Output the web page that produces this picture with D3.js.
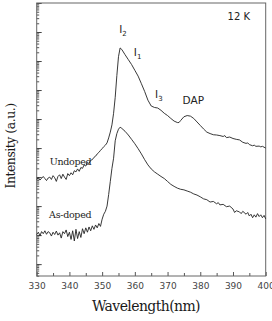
<!DOCTYPE html>
<html>
<head>
<meta charset="utf-8">
<script src="https://cdn.jsdelivr.net/npm/d3@7/dist/d3.min.js"></script>
<style>
  body { margin: 0; background: #fff; }
  svg { display: block; }
  .domain { display: none; }
</style>
</head>
<body>
<div id="chart"></div>
<script>
// wavelength (nm), intensity (a.u., log scale)
const undoped = [
  [330.0, 8.5e3], [330.5, 9.5e3], [331.0, 7.9e3], [331.5, 9.1e3], [332.0, 1.05e4], [332.5, 8.9e3],
  [333.0, 7.6e3], [333.5, 9.3e3], [334.0, 1.0e4], [334.5, 8.3e3], [335.0, 1.12e4], [335.5, 9.5e3],
  [336.0, 7.1e3], [336.5, 1.05e4], [337.0, 1.2e4], [337.5, 8.9e3], [338.0, 1.26e4], [338.5, 1.0e4],
  [339.0, 8.3e3], [339.5, 1.32e4], [340.0, 1.12e4], [340.5, 1.41e4], [341.0, 1.2e4], [341.5, 1.66e4],
  [342.0, 1.51e4], [342.5, 1.91e4], [343.0, 1.58e4], [343.5, 2.14e4], [344.0, 2.0e4], [344.5, 2.63e4],
  [345.0, 2.4e4], [345.5, 3.16e4], [346.0, 2.95e4], [346.5, 3.8e4], [347.0, 3.98e4], [347.5, 4.79e4],
  [348.0, 5.25e4], [348.5, 6.31e4], [349.0, 7.08e4], [349.5, 8.32e4], [350.0, 9.55e4], [350.5, 1.12e5],
  [351.0, 1.26e5], [351.5, 1.51e5], [352.0, 2.24e5], [352.5, 3.55e5], [353.0, 6.31e5], [353.5, 1.58e6],
  [354.0, 5.62e6], [354.5, 3.16e7], [355.0, 1.41e8], [355.5, 2.82e8], [356.0, 2.51e8], [357.0, 1.66e8],
  [358.0, 1.12e8], [359.0, 7.59e7], [360.0, 4.79e7], [361.0, 3.02e7], [362.0, 1.66e7], [363.0, 8.91e6],
  [364.0, 4.47e6], [365.0, 2.82e6], [366.0, 2.51e6], [367.0, 2.4e6], [368.0, 2.0e6], [369.0, 1.58e6],
  [370.0, 1.32e6], [371.0, 1.05e6], [372.0, 8.51e5], [373.0, 7.59e5], [373.5, 7.59e5], [374.0, 8.91e5],
  [375.0, 1.2e6], [376.0, 1.32e6], [377.0, 1.26e6], [378.0, 1.05e6], [379.0, 7.94e5], [380.0, 6.03e5],
  [381.0, 4.57e5], [382.0, 3.55e5], [383.0, 3.16e5], [384.0, 2.88e5], [385.0, 2.82e5], [386.0, 2.69e5],
  [387.0, 2.51e5], [387.5, 2.69e5], [388.0, 2.29e5], [389.0, 2.4e5], [390.0, 2.14e5], [391.0, 2.0e5],
  [392.0, 1.91e5], [393.0, 1.58e5], [394.0, 1.45e5], [394.5, 1.51e5], [395.0, 1.32e5], [396.0, 1.2e5],
  [396.5, 1.26e5], [397.0, 1.15e5], [398.0, 1.17e5], [398.5, 1.1e5], [399.0, 1.15e5], [400.0, 1.0e5]
];

const asDoped = [
  [330.0, 105], [330.5, 126], [331.0, 95], [331.5, 132], [332.0, 112], [332.5, 141],
  [333.0, 107], [333.5, 132], [334.0, 120], [334.5, 93], [335.0, 126], [335.5, 105],
  [336.0, 138], [336.5, 100], [337.0, 120], [337.5, 79], [338.0, 132], [338.5, 112],
  [339.0, 151], [339.5, 89], [340.0, 126], [340.5, 71], [341.0, 141], [341.5, 63],
  [342.0, 158], [342.5, 76], [343.0, 132], [343.5, 83], [344.0, 166], [344.5, 112],
  [345.0, 178], [345.5, 126], [346.0, 191], [346.5, 141], [347.0, 209], [347.5, 158],
  [348.0, 224], [348.5, 178], [349.0, 251], [349.5, 200], [350.0, 355], [350.5, 525],
  [351.0, 661], [351.5, 1000], [352.0, 2510], [352.5, 7080], [353.0, 2.0e4], [353.5, 4.47e4],
  [354.0, 1.78e5], [354.5, 3.16e5], [355.0, 4.47e5], [355.5, 5.25e5], [356.0, 4.79e5], [357.0, 3.8e5],
  [358.0, 2.82e5], [359.0, 2.0e5], [360.0, 1.41e5], [361.0, 9.55e4], [362.0, 6.31e4], [363.0, 3.98e4],
  [364.0, 2.63e4], [365.0, 1.91e4], [366.0, 1.51e4], [367.0, 1.26e4], [368.0, 1.05e4], [369.0, 8910],
  [370.0, 7080], [371.0, 5620], [372.0, 4790], [373.0, 4170], [374.0, 3800], [375.0, 3630],
  [376.0, 3310], [377.0, 3020], [378.0, 2630], [379.0, 2400], [380.0, 2090], [381.0, 1780],
  [382.0, 1660], [383.0, 1380], [384.0, 1450], [385.0, 1200], [385.5, 1320], [386.0, 1100],
  [387.0, 1150], [388.0, 955], [389.0, 1000], [390.0, 794], [390.5, 603], [391.0, 692],
  [392.0, 631], [392.5, 550], [393.0, 661], [394.0, 525], [394.5, 603], [395.0, 457],
  [395.5, 525], [396.0, 398], [396.5, 501], [397.0, 417], [397.5, 550], [398.0, 437],
  [398.5, 501], [399.0, 398], [399.5, 479], [400.0, 363]
];

const xTicks = [330, 340, 350, 360, 370, 380, 390, 400];
const xMinor = d3.range(335, 400, 10);

// peak labels: [text, subscript, wavelength, intensity]
const peakLabels = [
  ["I", "2", 355.2, 9.5e8],
  ["I", "1", 359.7, 1.5e8],
  ["I", "3", 366.2, 5.2e6],
  ["DAP", "", 374.6, 3.3e6]
];
const sampleLabels = [
  ["Undoped", 334.0, 2.6e4],
  ["As-doped", 333.8, 3.9e2]
];

const W = 272, H = 321;
const m = { left: 36.7, right: 6.3, top: 3, bottom: 45 };
const iw = W - m.left - m.right, ih = H - m.top - m.bottom;

const svg = d3.select("#chart").append("svg")
  .attr("width", W).attr("height", H);

const g = svg.append("g").attr("transform", `translate(${m.left},${m.top})`);

const x = d3.scaleLinear().domain([330, 400]).range([0, iw]);
const y = d3.scaleLog().domain([3.9, 1e10]).range([ih, 0]);

// bottom axis, ticks pointing in
g.append("g")
  .attr("transform", `translate(0,${ih})`)
  .call(d3.axisBottom(x).tickValues(xMinor).tickSize(-3).tickFormat(""))
  .selectAll("line").attr("stroke", "#555");
const xa = g.append("g")
  .attr("transform", `translate(0,${ih})`)
  .call(d3.axisBottom(x).tickValues(xTicks).tickSize(-4).tickPadding(7));
xa.selectAll("line").attr("stroke", "#555");
xa.selectAll("text")
  .attr("font-family", "DejaVu Sans, sans-serif")
  .attr("font-size", 9).attr("fill", "#444");

// left axis: minor + decade ticks, no labels
const decades = d3.range(1, 11).map(k => Math.pow(10, k));
g.append("g")
  .call(d3.axisLeft(y).tickValues(y.ticks().filter(v => v >= 3.9)).tickSize(-2.5).tickFormat(""))
  .selectAll("line").attr("stroke", "#555");
g.append("g")
  .call(d3.axisLeft(y).tickValues(decades).tickSize(-5).tickFormat(""))
  .selectAll("line").attr("stroke", "#444");

// frame
g.append("rect")
  .attr("width", iw).attr("height", ih)
  .attr("fill", "none").attr("stroke", "#666").attr("stroke-width", 1);

const line = d3.line().x(d => x(d[0])).y(d => y(d[1]));

[undoped, asDoped].forEach(s => {
  g.append("path")
    .datum(s)
    .attr("d", line)
    .attr("fill", "none")
    .attr("stroke", "#222")
    .attr("stroke-width", 0.9)
    .attr("stroke-linejoin", "round");
});

// peak labels
peakLabels.forEach(p => {
  const t = g.append("text")
    .attr("x", x(p[2])).attr("y", y(p[3]))
    .attr("font-family", "DejaVu Sans, sans-serif")
    .attr("font-size", 10.5).attr("fill", "#222")
    .text(p[0]);
  if (p[1]) {
    t.append("tspan").attr("font-size", 7).attr("dy", 3).text(p[1]);
  }
});

sampleLabels.forEach(s => {
  g.append("text")
    .attr("x", x(s[1])).attr("y", y(s[2]))
    .attr("font-family", "DejaVu Serif, serif")
    .attr("font-size", 9.5).attr("fill", "#222")
    .attr("letter-spacing", -0.3)
    .text(s[0]);
});

g.append("text")
  .attr("x", 250 - m.left).attr("y", 20 - m.top)
  .attr("text-anchor", "end")
  .attr("font-family", "DejaVu Sans, sans-serif")
  .attr("font-size", 10).attr("fill", "#222")
  .text("12 K");

// axis titles
svg.append("text")
  .attr("x", 146).attr("y", 311)
  .attr("text-anchor", "middle")
  .attr("font-family", "DejaVu Serif, serif")
  .attr("font-size", 14).attr("fill", "#1a1a1a")
  .attr("letter-spacing", -0.6)
  .text("Wavelength(nm)");

svg.append("text")
  .attr("transform", "translate(15,146) rotate(-90)")
  .attr("text-anchor", "middle")
  .attr("font-family", "DejaVu Serif, serif")
  .attr("font-size", 12.5).attr("fill", "#1a1a1a")
  .attr("letter-spacing", -0.5)
  .text("Intensity (a.u.)");
</script>
</body>
</html>
